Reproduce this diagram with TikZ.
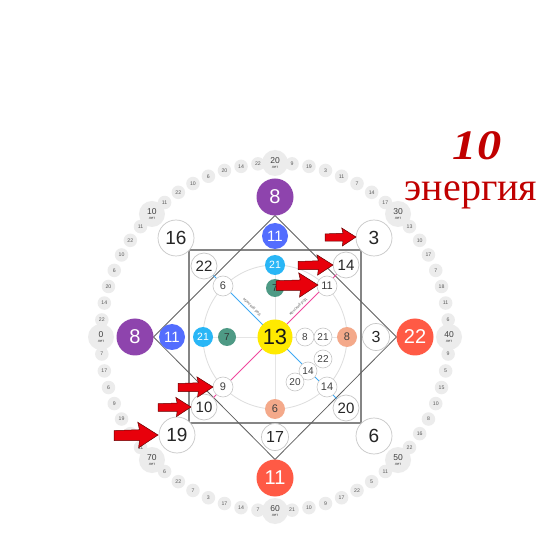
\documentclass[tikz,border=0pt]{standalone}
\usepackage{fontspec}
\setmainfont{Liberation Sans}
\newfontfamily\serifcyr{Liberation Serif}
\usetikzlibrary{backgrounds}
\definecolor{purp}{HTML}{8E44AD}
\definecolor{blu}{HTML}{536DFE}
\definecolor{cyn}{HTML}{29B6F6}
\definecolor{teal2}{HTML}{4E9A85}
\definecolor{yel}{HTML}{FFEA00}
\definecolor{tom}{HTML}{FF5A45}
\definecolor{salm}{HTML}{F4A98A}
\definecolor{dotgray}{HTML}{ECECEC}
\definecolor{dred}{HTML}{C00000}
\definecolor{arred}{HTML}{E8000B}
\definecolor{lblue}{HTML}{3FA9F5}
\definecolor{lpink}{HTML}{F0489E}
\newcommand{\fsz}[1]{\fontsize{#1}{#1}\selectfont}
\begin{document}
\begin{tikzpicture}[x=1pt,y=-1pt,
 every node/.style={inner sep=0pt, outer sep=0pt},
 big/.style={circle, minimum size=37pt, text=white, font=\fsz{20}},
 wbig/.style={circle, minimum size=36pt, draw=black!22, line width=0.7pt, fill=white, text=black!85, font=\fsz{19}},
 wmid/.style={circle, minimum size=27pt, draw=black!22, line width=0.7pt, fill=white, text=black!85, font=\fsz{16}},
 wcor/.style={circle, minimum size=26pt, draw=black!22, line width=0.7pt, fill=white, text=black!85, font=\fsz{15}},
 bluec/.style={circle, minimum size=26pt, fill=blu, text=white, font=\fsz{15}},
 cyanc/.style={circle, minimum size=20pt, fill=cyn, text=white, font=\fsz{10.5}},
 salc/.style={circle, minimum size=20pt, fill=salm, text=black!75, font=\fsz{11}},
 tealc/.style={circle, minimum size=18pt, fill=teal2, text=black!80, font=\fsz{10}},
 wsm/.style={circle, minimum size=20pt, draw=black!22, line width=0.6pt, fill=white, text=black!75, font=\fsz{11}},
 wxs/.style={circle, minimum size=18pt, draw=black!22, line width=0.6pt, fill=white, text=black!75, font=\fsz{10}},
 sdot/.style={circle, minimum size=13.5pt, fill=dotgray, text=black!65, font=\fsz{5.2}},
 mdot/.style={circle, minimum size=26pt, fill=dotgray, text=black!75},
 linetxt/.style={text=black!60, font=\fsz{4}},
 redarrow/.pic={\fill[arred, draw=black!60!red, line width=0.5pt]
   (-1,-0.1) -- (-0.42,-0.12) -- (-0.46,-0.29) -- (0,0) -- (-0.44,0.29) -- (-0.42,0.13) -- (-1,0.13) -- cycle;}
]
\useasboundingbox (0,0) rectangle (554,534);

% outer ring
\foreach \lab [count=\j from 0] in {0,10,20,30,40,50,60,70}{
  \pgfmathsetmacro\t{180-45*\j}
  \node[mdot] (mj\j) at ({275+174*cos(\t)},{337-174*sin(\t)})
    {\shortstack{{\fsz{8.5}\lab}\\[0.5pt]{\fsz{4}лет}}};
}
\foreach \lab [count=\i from 0] in {22,14,20,6,10,22,11, 11,22,10,6,20,14,22,
  9,19,3,11,7,14,17, 13,10,17,7,18,11,6, 9,5,15,10,8,16,22,
  11,5,22,17,9,10,21, 7,14,17,3,7,22,6, 11,8,19,9,6,17,7}{
  \pgfmathsetmacro\t{180-5.625*(\i+floor(\i/7)+1)}
  \node[sdot] (s\i) at ({275+174*cos(\t)},{337-174*sin(\t)}) {\lab};
}

% main nodes
\node[big, fill=purp] (t8) at (275,197) {8};
\node[big, fill=purp] (l8) at (135,337) {8};
\node[big, fill=tom] (r22) at (415,337) {22};
\node[big, fill=tom] (b11) at (275,478) {11};

\node[wbig] (d16) at (176,238) {16};
\node[wbig] (d3) at (374,238) {3};
\node[wbig] (d19) at (177,435) {19};
\node[wbig] (d6) at (374,436) {6};

\node[bluec] (t11) at (275,236) {11};
\node[bluec] (l11) at (172,337) {11};
\node[wmid] (r3) at (376,337) {3};
\node[wmid] (b17) at (275,437) {17};

\node[wcor] (c22) at (204,266) {22};
\node[wcor] (c14) at (346,265) {14};
\node[wcor] (c10) at (204,407) {10};
\node[wcor] (c20) at (346,408) {20};

\node[cyanc] (t21) at (275,265) {21};
\node[cyanc] (l21) at (203,337) {21};
\node[salc] (r8) at (347,337) {8};
\node[salc] (b6) at (275,409) {6};

\node[tealc] (t7) at (275,288) {7};
\node[tealc] (l7) at (227,337) {7};

\node[circle, minimum size=35pt, fill=yel, text=black!90, font=\fsz{22}] (ctr) at (275,337) {13};

\node[wsm] (i6) at (223,286) {6};
\node[wsm] (i11) at (327,286) {11};
\node[wsm] (i9) at (223,387) {9};
\node[wsm] (i14) at (327,387) {14};

\node[wxs] (m8) at (305,337) {8};
\node[wxs] (m21) at (323,337) {21};
\node[wxs] (m22) at (323,359) {22};
\node[wxs] (m14) at (308,371) {14};
\node[wxs] (m20) at (295,382) {20};

\node[linetxt, rotate=-45] (mtxt) at (252,307) {мужской род};
\node[linetxt, rotate=45] (ftxt) at (298,307) {женский род};

% background structure
\begin{scope}[on background layer]
  \fill[white] (0,0) rectangle (554,534);
  \draw[black!48, line width=1.5pt] (189,250) rectangle (361,423);
  \draw[black!62, line width=0.8pt] (t8.south) -- (r22.west) -- (b11.north) -- (l8.east) -- cycle;
  \draw[black!13, line width=0.8pt] (ctr.center) circle[radius=72];
  \draw[black!10, line width=0.8pt] (t21) -- (b6) (l21) -- (r8);
  \draw[lblue, line width=0.9pt] (c22) -- (c20);
  \draw[lpink, line width=0.9pt] (c10) -- (c14);
\end{scope}

% red arrows
\pic[scale=31] at (356,237) {redarrow};
\pic[scale=35] at (333,265) {redarrow};
\pic[scale=42] at (318,285) {redarrow};
\pic[scale=35] at (213,387) {redarrow};
\pic[scale=33] at (191,407) {redarrow};
\pic[scale=44] at (158,435) {redarrow};

% title text
\node[text=dred, font=\serifcyr\bfseries\itshape\fsz{42}, xscale=1.15] (ten) at (477,146) {10};
\node[text=dred, font=\serifcyr\fsz{40}] (en) at (471,195) {энергия};
\end{tikzpicture}
\end{document}
